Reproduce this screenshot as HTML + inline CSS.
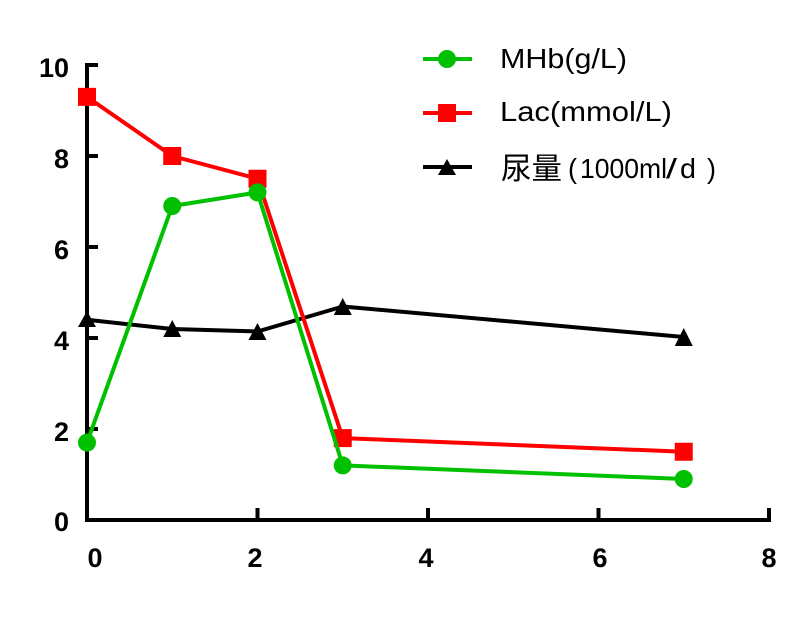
<!DOCTYPE html>
<html>
<head>
<meta charset="utf-8">
<style>
html,body{margin:0;padding:0;background:#fff;}
svg{display:block;}
.t{font-family:"Liberation Sans",Arial,sans-serif;font-weight:bold;font-size:27px;fill:#000;}
.l{font-family:"Liberation Sans","Noto Sans CJK SC",sans-serif;font-size:28px;fill:#000;}
.c{font-family:"Noto Sans CJK SC","WenQuanYi Zen Hei",sans-serif;font-size:30px;fill:#000;}
</style>
</head>
<body>
<svg width="802" height="626" viewBox="0 0 802 626" xmlns="http://www.w3.org/2000/svg">
<rect width="802" height="626" fill="#fff"/>
<!-- axes -->
<g stroke="#000" stroke-width="4" fill="none">
  <line x1="87" y1="63" x2="87" y2="522"/>
  <line x1="85" y1="520" x2="771" y2="520"/>
  <line x1="87" y1="65" x2="98" y2="65"/>
  <line x1="87" y1="156" x2="98" y2="156"/>
  <line x1="87" y1="247" x2="98" y2="247"/>
  <line x1="87" y1="338" x2="98" y2="338"/>
  <line x1="87" y1="429" x2="98" y2="429"/>
  <line x1="257.5" y1="508" x2="257.5" y2="520"/>
  <line x1="428" y1="508" x2="428" y2="520"/>
  <line x1="598.5" y1="508" x2="598.5" y2="520"/>
  <line x1="769" y1="508" x2="769" y2="520"/>
</g>
<!-- y labels -->
<g class="t" text-anchor="end">
  <text x="69" y="77">10</text>
  <text x="69" y="168">8</text>
  <text x="69" y="259">6</text>
  <text x="69" y="350">4</text>
  <text x="69" y="441">2</text>
  <text x="69" y="531">0</text>
</g>
<!-- x labels -->
<g class="t" text-anchor="middle">
  <text x="95" y="567">0</text>
  <text x="255" y="567">2</text>
  <text x="426" y="567">4</text>
  <text x="600" y="567">6</text>
  <text x="769" y="567">8</text>
</g>
<!-- urine (black) -->
<polyline points="87,319.8 172.25,329 257.5,331.5 342.75,306.5 683.75,337" fill="none" stroke="#000" stroke-width="4" stroke-linejoin="round"/>
<g fill="#000">
  <polygon points="87,311 96,327 78,327"/>
  <polygon points="172.25,320 181.25,337 163.25,337"/>
  <polygon points="257.5,323 266.5,340 248.5,340"/>
  <polygon points="342.75,298 351.75,315 333.75,315"/>
  <polygon points="683.75,328 692.75,346 674.75,346"/>
</g>
<!-- Lac (red) -->
<polyline points="87,96.85 172.25,156 257.5,178.75 342.75,438.1 683.75,451.75" fill="none" stroke="#ff0000" stroke-width="4" stroke-linejoin="round"/>
<g fill="#ff0000">
  <rect x="78" y="87.85" width="18" height="18"/>
  <rect x="163.25" y="147" width="18" height="18"/>
  <rect x="248.5" y="169.75" width="18" height="18"/>
  <rect x="333.75" y="429.1" width="18" height="18"/>
  <rect x="674.75" y="442.75" width="18" height="18"/>
</g>
<!-- MHb (green) -->
<polyline points="87,442.6 172.25,206 257.5,192.4 342.75,465.4 683.75,479" fill="none" stroke="#00c000" stroke-width="4" stroke-linejoin="round"/>
<g fill="#00c000">
  <circle cx="87" cy="442.6" r="9"/>
  <circle cx="172.25" cy="206" r="9"/>
  <circle cx="257.5" cy="192.4" r="9"/>
  <circle cx="342.75" cy="465.4" r="9"/>
  <circle cx="683.75" cy="479" r="9"/>
</g>
<!-- legend -->
<line x1="423" y1="59" x2="472" y2="59" stroke="#00c000" stroke-width="4"/>
<circle cx="447" cy="59" r="9" fill="#00c000"/>
<line x1="423" y1="113" x2="472" y2="113" stroke="#ff0000" stroke-width="4"/>
<rect x="438" y="104" width="18" height="18" fill="#ff0000"/>
<line x1="423" y1="167" x2="472" y2="167" stroke="#000" stroke-width="4"/>
<polygon points="447,159 456,175 438,175" fill="#000"/>
<text class="l" x="500" y="68" textLength="127" lengthAdjust="spacingAndGlyphs">MHb(g/L)</text>
<text class="l" x="500" y="121" textLength="172" lengthAdjust="spacingAndGlyphs">Lac(mmol/L)</text>
<text class="c" x="501" y="179" textLength="61" lengthAdjust="spacingAndGlyphs">尿量</text>
<text class="l" x="568" y="178" textLength="9" lengthAdjust="spacingAndGlyphs">(</text>
<text class="l" x="580" y="178" textLength="87" lengthAdjust="spacingAndGlyphs">1000ml</text>
<text class="l" x="666" y="178" textLength="11" lengthAdjust="spacingAndGlyphs">/</text>
<text class="l" x="680" y="178" textLength="16" lengthAdjust="spacingAndGlyphs">d</text>
<text class="l" x="707" y="178" textLength="9" lengthAdjust="spacingAndGlyphs">)</text>
</svg>
</body>
</html>
